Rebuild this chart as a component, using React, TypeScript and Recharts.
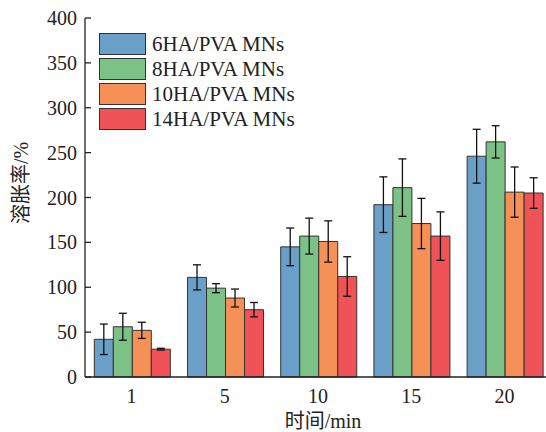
import React from 'react';
import { BarChart, Bar, XAxis, YAxis, ErrorBar } from 'recharts';

const times = ['1', '5', '10', '15', '20'];
const series = ['6HA/PVA MNs', '8HA/PVA MNs', '10HA/PVA MNs', '14HA/PVA MNs'];
const colors = ['#6a9fc8', '#7cc186', '#f59056', '#ef5358'];

// swelling ratio (%) and error, per series
const ha6 = [42, 111, 145, 192, 246];
const ha8 = [56, 99, 157, 211, 262];
const ha10 = [52, 88, 151, 171, 206];
const ha14 = [31, 75, 112, 157, 205];
const err6 = [17, 14, 21, 31, 30];
const err8 = [15, 5, 20, 32, 18];
const err10 = [9, 10, 23, 28, 28];
const err14 = [1, 8, 22, 27, 17];

const yTicks = [0, 50, 100, 150, 200, 250, 300, 350, 400];

const values = [ha6, ha8, ha10, ha14];
const errors = [err6, err8, err10, err14];

const data = times.map((t, i) => {
  const row: any = { time: t };
  values.forEach((v, k) => {
    row['s' + k] = v[i];
    row['e' + k] = errors[k][i];
  });
  return row;
});

const serif = '"Liberation Serif", "DejaVu Serif", serif';
const cjk = '"Liberation Serif", "Noto Sans CJK SC", serif';

// legend drawn over the plot, top-left
const LegendBox = () => (
  <div style={{ position: 'absolute', left: 99, top: 33, display: 'flex', flexDirection: 'column', gap: 3 }}>
    {series.map((name, i) => (
      <div key={name} style={{ display: 'flex', alignItems: 'center', height: 22 }}>
        <div style={{ width: 45, height: 20, background: colors[i], border: '1px solid #333' }} />
        <span style={{ marginLeft: 6, fontFamily: serif, fontSize: 21, color: '#222', lineHeight: '22px', whiteSpace: 'nowrap' }}>{name}</span>
      </div>
    ))}
  </div>
);

export default function App() {
  return (
    <div style={{ position: 'absolute', left: 0, top: 0, width: 546, height: 432, background: '#fff', overflow: 'hidden' }}>
      <BarChart
        width={546}
        height={432}
        data={data}
        margin={{ top: 18, right: -5, bottom: 0, left: 0 }}
        barCategoryGap="10%"
        barGap={0}
      >
        <XAxis
          dataKey="time"
          height={55}
          axisLine={{ stroke: '#222', strokeWidth: 1.3 }}
          tickLine={false}
          tickMargin={6}
          tick={{ fill: '#222', fontFamily: serif, fontSize: 20 }}
          label={{ value: '时间/min', position: 'insideBottom', offset: 4, dx: 5, fill: '#222', fontFamily: cjk, fontSize: 20 }}
        />
        <YAxis
          width={85}
          domain={[0, 400]}
          ticks={yTicks}
          interval={0}
          axisLine={{ stroke: '#222', strokeWidth: 1.3 }}
          tickLine={{ stroke: '#222', strokeWidth: 1.3 }}
          tickSize={-6}
          tickMargin={14}
          tick={{ fill: '#222', fontFamily: serif, fontSize: 20 }}
          label={{
            content: () => (
              <text x={21} y={183} transform="rotate(-90 21 183)" textAnchor="middle" dominantBaseline="central" fill="#222" style={{ fontFamily: cjk, fontSize: 20 }}>
                溶胀率/%
              </text>
            ),
          }}
        />
        {series.map((name, k) => (
          <Bar key={name} dataKey={'s' + k} name={name} fill={colors[k]} stroke="#333" strokeWidth={1} isAnimationActive={false}>
            <ErrorBar dataKey={'e' + k} width={4} stroke="#111" strokeWidth={1.3} direction="y" />
          </Bar>
        ))}
      </BarChart>
      <LegendBox />
    </div>
  );
}
